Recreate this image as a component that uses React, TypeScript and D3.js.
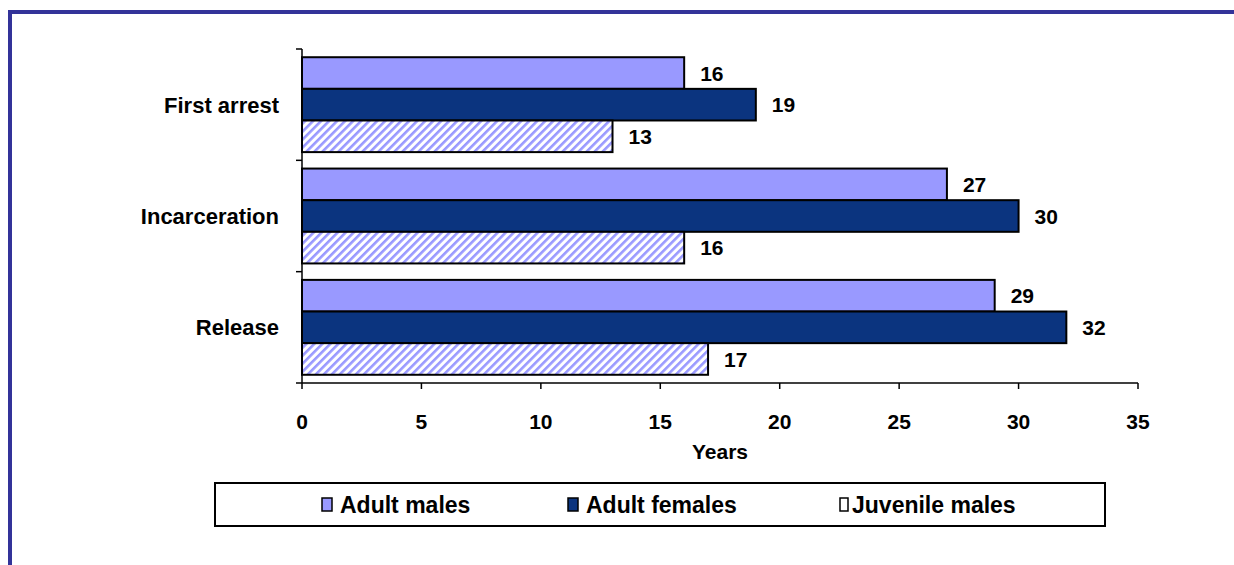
import React from "react";
import * as d3 from "d3";

const categories = ["First arrest", "Incarceration", "Release"];
const seriesNames = ["Adult males", "Adult females", "Juvenile males"];
const adultMales = [16, 27, 29];
const adultFemales = [19, 30, 32];
const juvenileMales = [13, 16, 17];
const xTicks = [0, 5, 10, 15, 20, 25, 30, 35];

const FONT = "'Liberation Sans', Arial, sans-serif";
const fills = ["#9999FF", "#0B347F", "url(#hatch)"];
const legendSwatch = ["#9999FF", "#0B347F", "#FFFFFF"];

export default function App() {
  const width = 1234;
  const height = 565;
  const x = d3.scaleLinear().domain([0, 35]).range([302, 1138]);
  const y = d3.scaleBand<string>().domain(categories).range([49, 383]).paddingInner(0).paddingOuter(0);
  const inner = d3
    .scaleBand<string>()
    .domain(seriesNames)
    .range([0, y.bandwidth()])
    .paddingInner(0)
    .paddingOuter(0.26);
  const values = [adultMales, adultFemales, juvenileMales];

  const legendMarkX = [322, 568, 840];
  const legendTextX = [340, 586, 852];

  return (
    <svg
      width={width}
      height={height}
      style={{ position: "absolute", left: 0, top: 0, background: "#fff" }}
      fontFamily={FONT}
      fontWeight="bold"
    >
      <defs>
        <pattern
          id="hatch"
          patternUnits="userSpaceOnUse"
          width={5.66}
          height={10}
          patternTransform="rotate(45)"
        >
          <rect x={0} y={0} width={5.66} height={10} fill="#fff" />
          <rect x={0} y={0} width={2.6} height={10} fill="#9999FF" />
        </pattern>
      </defs>

      {/* frame */}
      <line x1={10} y1={12} x2={width} y2={12} stroke="#333399" strokeWidth={4} />
      <line x1={10} y1={10} x2={10} y2={height} stroke="#333399" strokeWidth={4} />

      {/* bars */}
      {categories.map((c, ci) =>
        seriesNames.map((s, si) => {
          const v = values[si][ci];
          const by = (y(c) ?? 0) + (inner(s) ?? 0);
          const bh = inner.bandwidth();
          return (
            <g key={c + s}>
              <rect
                x={x(0)}
                y={by}
                width={x(v) - x(0)}
                height={bh}
                fill={fills[si]}
                stroke="#000"
                strokeWidth={2}
              />
              <text
                x={x(v) + 16}
                y={by + bh / 2}
                dy="0.36em"
                fontSize={21}
                fill="#000"
              >
                {v}
              </text>
            </g>
          );
        })
      )}

      {/* y axis */}
      <line x1={x(0)} y1={49} x2={x(0)} y2={383} stroke="#000" strokeWidth={1.5} />
      {[...categories.map((c) => y(c) ?? 0), 383].map((t, i) => (
        <line key={i} x1={x(0) - 6} y1={t} x2={x(0)} y2={t} stroke="#000" strokeWidth={1.5} />
      ))}
      {categories.map((c) => (
        <text
          key={c}
          x={279}
          y={(y(c) ?? 0) + y.bandwidth() / 2}
          dy="0.36em"
          textAnchor="end"
          fontSize={22}
        >
          {c}
        </text>
      ))}

      {/* x axis */}
      <line x1={x(0)} y1={383} x2={x(35)} y2={383} stroke="#000" strokeWidth={1.5} />
      {xTicks.map((t) => (
        <g key={t}>
          <line x1={x(t)} y1={383} x2={x(t)} y2={389} stroke="#000" strokeWidth={1.5} />
          <text x={x(t)} y={421} dy="0.36em" textAnchor="middle" fontSize={21}>
            {t}
          </text>
        </g>
      ))}
      <text x={720} y={451} dy="0.36em" textAnchor="middle" fontSize={21}>
        Years
      </text>

      {/* legend */}
      <rect x={215} y={483} width={890} height={43} fill="#fff" stroke="#000" strokeWidth={2} />
      {seriesNames.map((s, i) => (
        <g key={s}>
          <rect
            x={legendMarkX[i]}
            y={498}
            width={i === 2 ? 8 : 10}
            height={13}
            fill={legendSwatch[i]}
            stroke="#000"
            strokeWidth={1.5}
          />
          <text x={legendTextX[i]} y={505} dy="0.36em" fontSize={23}>
            {s}
          </text>
        </g>
      ))}
    </svg>
  );
}
